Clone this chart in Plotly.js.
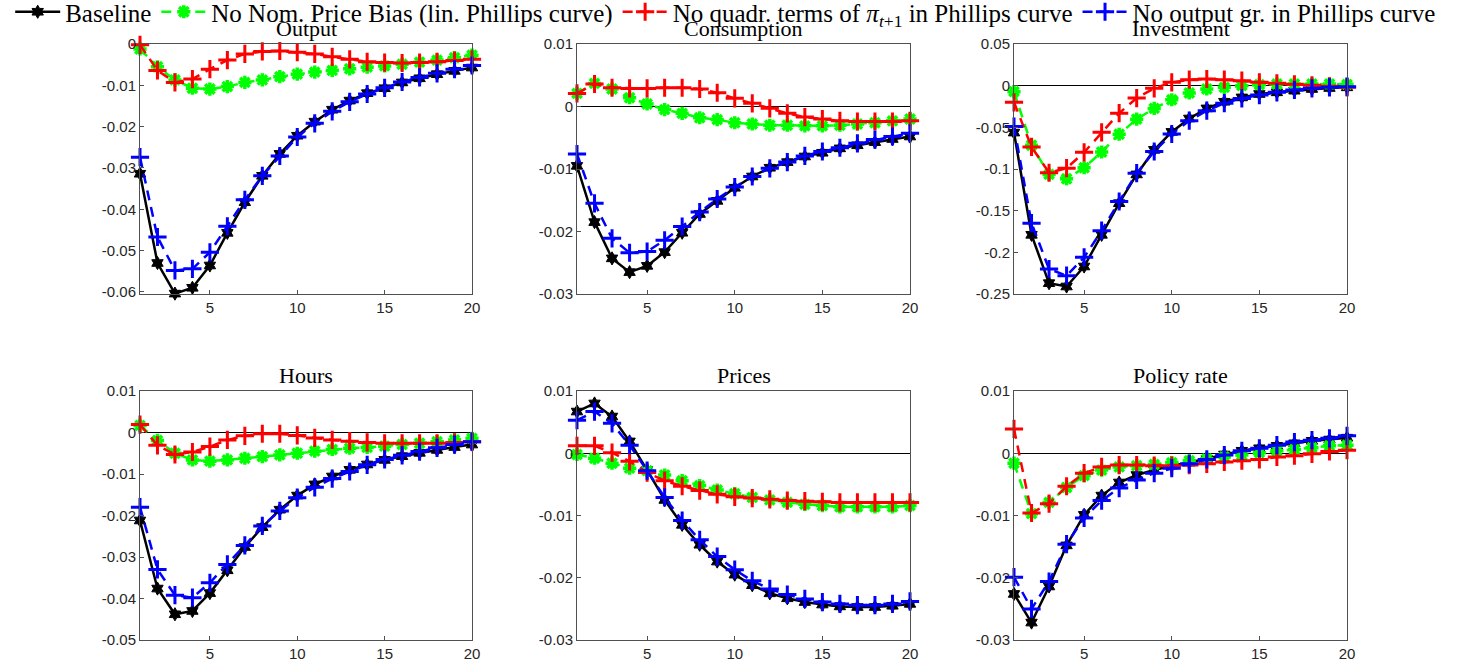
<!DOCTYPE html>
<html>
<head>
<meta charset="utf-8">
<script src="https://cdn.plot.ly/plotly-3.0.1.min.js"></script>
<style>html,body{margin:0;padding:0;background:#fff;}#chart{width:1472px;height:670px;}</style>
</head>
<body>
<div id="chart"></div>
<script>
// Horizon (quarters)
var horizon = [1,2,3,4,5,6,7,8,9,10,11,12,13,14,15,16,17,18,19,20];

// Series names
var seriesNames = [
  'Baseline',
  'No Nom. Price Bias (lin. Phillips curve)',
  'No quadr. terms of <i>π</i><sub><i>t</i>+1</sub> in Phillips curve',
  'No output gr. in Phillips curve'
];

// Panel titles
var panelTitles = ['Output','Consumption','Investment','Hours','Prices','Policy rate'];

// ---- Output ----
var outputBaseline = [-0.0314,-0.0530,-0.0604,-0.0590,-0.0536,-0.0457,-0.0383,-0.0319,-0.0266,-0.0222,-0.0188,-0.0159,-0.0137,-0.0119,-0.0107,-0.0093,-0.0083,-0.0073,-0.0065,-0.0057];
var outputNoBias   = [-0.0012,-0.0055,-0.0087,-0.0107,-0.0109,-0.0103,-0.0093,-0.0087,-0.0079,-0.0073,-0.0068,-0.0064,-0.0060,-0.0056,-0.0053,-0.0049,-0.0044,-0.0039,-0.0033,-0.0027];
var outputNoQuadr  = [-0.0002,-0.0064,-0.0093,-0.0085,-0.0061,-0.0039,-0.0024,-0.0018,-0.0017,-0.0020,-0.0024,-0.0031,-0.0037,-0.0043,-0.0045,-0.0046,-0.0045,-0.0043,-0.0040,-0.0037];
var outputNoOutGr  = [-0.0274,-0.0467,-0.0548,-0.0544,-0.0504,-0.0441,-0.0377,-0.0319,-0.0271,-0.0225,-0.0192,-0.0163,-0.0140,-0.0121,-0.0106,-0.0092,-0.0081,-0.0071,-0.0061,-0.0052];

// ---- Consumption ----
var consBaseline = [-0.0095,-0.0185,-0.0243,-0.0265,-0.0255,-0.0233,-0.0202,-0.0172,-0.0151,-0.0130,-0.0112,-0.0098,-0.0089,-0.0080,-0.0074,-0.0067,-0.0062,-0.0057,-0.0052,-0.0048];
var consNoBias   = [0.0021,0.0037,0.0028,0.0014,0.0004,-0.0005,-0.0011,-0.0018,-0.0021,-0.0026,-0.0028,-0.0030,-0.0030,-0.0031,-0.0031,-0.0030,-0.0028,-0.0026,-0.0023,-0.0020];
var consNoQuadr  = [0.0021,0.0036,0.0030,0.0029,0.0029,0.0030,0.0030,0.0028,0.0022,0.0013,0.0005,-0.0003,-0.0011,-0.0017,-0.0020,-0.0023,-0.0024,-0.0024,-0.0024,-0.0023];
var consNoOutGr  = [-0.0076,-0.0155,-0.0211,-0.0234,-0.0232,-0.0214,-0.0192,-0.0169,-0.0148,-0.0129,-0.0112,-0.0099,-0.0089,-0.0079,-0.0072,-0.0066,-0.0059,-0.0053,-0.0048,-0.0043];

// ---- Investment ----
var invBaseline = [-0.0563,-0.179,-0.237,-0.241,-0.217,-0.179,-0.141,-0.1065,-0.077,-0.0555,-0.0394,-0.0273,-0.0193,-0.0141,-0.0100,-0.0080,-0.0060,-0.0040,-0.0028,-0.0020];
var invNoBias   = [-0.0072,-0.0715,-0.1065,-0.1117,-0.0985,-0.0796,-0.0583,-0.0402,-0.0273,-0.0169,-0.0088,-0.0040,-0.0020,0.0000,0.0012,0.0020,0.0020,0.0020,0.0020,0.0016];
var invNoQuadr  = [-0.020,-0.0735,-0.1045,-0.099,-0.080,-0.056,-0.033,-0.0149,-0.0032,0.0040,0.0072,0.0080,0.0072,0.0060,0.0040,0.0028,0.0016,0.0004,-0.0008,-0.0020];
var invNoOutGr  = [-0.049,-0.165,-0.220,-0.228,-0.206,-0.174,-0.139,-0.105,-0.079,-0.058,-0.042,-0.030,-0.021,-0.0153,-0.0113,-0.0080,-0.0052,-0.0032,-0.0020,-0.0012];

// ---- Hours ----
var hoursBaseline = [-0.0212,-0.0376,-0.0438,-0.0430,-0.0387,-0.0332,-0.0276,-0.0228,-0.0186,-0.0152,-0.0125,-0.0106,-0.0090,-0.0077,-0.0066,-0.0057,-0.0049,-0.0042,-0.0035,-0.0029];
var hoursNoBias   = [0.0017,-0.0019,-0.0050,-0.0066,-0.0069,-0.0066,-0.0062,-0.0058,-0.0054,-0.0050,-0.0045,-0.0041,-0.0038,-0.0036,-0.0033,-0.0029,-0.0026,-0.0022,-0.0018,-0.0014];
var hoursNoQuadr  = [0.0019,-0.0031,-0.0053,-0.0047,-0.0034,-0.0018,-0.0008,-0.0003,-0.0003,-0.0007,-0.0013,-0.0018,-0.0021,-0.0024,-0.0026,-0.0026,-0.0026,-0.0026,-0.0024,-0.0022];
var hoursNoOutGr  = [-0.0180,-0.0330,-0.0392,-0.0398,-0.0362,-0.0318,-0.0272,-0.0225,-0.0189,-0.0157,-0.0132,-0.0111,-0.0094,-0.0078,-0.0065,-0.0055,-0.0046,-0.0037,-0.0029,-0.0022];

// ---- Prices ----
var pricesBaseline = [0.0067,0.0080,0.0059,0.0019,-0.0027,-0.0075,-0.0115,-0.0147,-0.0174,-0.0195,-0.0212,-0.0225,-0.0233,-0.0239,-0.0243,-0.0246,-0.0247,-0.0247,-0.0245,-0.0242];
var pricesNoBias   = [-0.0002,-0.0008,-0.0016,-0.0024,-0.0028,-0.0035,-0.0044,-0.0052,-0.0059,-0.0065,-0.0071,-0.0075,-0.0079,-0.0082,-0.0084,-0.0086,-0.0086,-0.0086,-0.0086,-0.0084];
var pricesNoQuadr  = [0.0012,0.0012,0.0001,-0.0013,-0.0031,-0.0044,-0.0053,-0.0060,-0.0066,-0.0070,-0.0072,-0.0074,-0.0076,-0.0077,-0.0078,-0.0079,-0.0079,-0.0079,-0.0079,-0.0079];
var pricesNoOutGr  = [0.0053,0.0067,0.0048,0.0013,-0.0028,-0.0071,-0.0108,-0.0139,-0.0166,-0.0187,-0.0205,-0.0218,-0.0227,-0.0234,-0.0239,-0.0242,-0.0244,-0.0244,-0.0242,-0.0238];

// ---- Policy rate ----
var rateBaseline = [-0.0226,-0.0272,-0.0214,-0.0148,-0.0099,-0.0068,-0.0047,-0.0035,-0.0027,-0.0020,-0.0015,-0.0009,-0.0002,0.0004,0.0008,0.0012,0.0016,0.0020,0.0022,0.0025];
var rateNoBias   = [-0.0016,-0.0097,-0.0079,-0.0055,-0.0036,-0.0027,-0.0022,-0.0020,-0.0018,-0.0015,-0.0012,-0.0009,-0.0006,-0.0003,0.0001,0.0004,0.0006,0.0009,0.0012,0.0013];
var rateNoQuadr  = [0.0039,-0.0096,-0.0081,-0.0053,-0.0032,-0.0022,-0.0019,-0.0019,-0.0020,-0.0020,-0.0019,-0.0017,-0.0014,-0.0012,-0.0010,-0.0006,-0.0004,-0.0001,0.0003,0.0005];
var rateNoOutGr  = [-0.0199,-0.0250,-0.0206,-0.0146,-0.0104,-0.0076,-0.0056,-0.0043,-0.0032,-0.0024,-0.0017,-0.0010,-0.0003,0.0004,0.0008,0.0013,0.0018,0.0021,0.0024,0.0028];

// Axis ranges and tick labels
var yRanges = [[-0.0605,0],[-0.03,0.01],[-0.25,0.05],[-0.05,0.01],[-0.03,0.01],[-0.03,0.01]];
var yTickVals = [
  [0,-0.01,-0.02,-0.03,-0.04,-0.05,-0.06],
  [0.01,0,-0.01,-0.02,-0.03],
  [0.05,0,-0.05,-0.1,-0.15,-0.2,-0.25],
  [0.01,0,-0.01,-0.02,-0.03,-0.04,-0.05],
  [0.01,0,-0.01,-0.02,-0.03],
  [0.01,0,-0.01,-0.02,-0.03]
];
var yTickText = [
  ['0','-0.01','-0.02','-0.03','-0.04','-0.05','-0.06'],
  ['0.01','0','-0.01','-0.02','-0.03'],
  ['0.05','0','-0.05','-0.1','-0.15','-0.2','-0.25'],
  ['0.01','0','-0.01','-0.02','-0.03','-0.04','-0.05'],
  ['0.01','0','-0.01','-0.02','-0.03'],
  ['0.01','0','-0.01','-0.02','-0.03']
];
var xTickVals = [5,10,15,20];
var xTickText = ['5','10','15','20'];

var panelData = [
  [outputBaseline, outputNoBias, outputNoQuadr, outputNoOutGr],
  [consBaseline, consNoBias, consNoQuadr, consNoOutGr],
  [invBaseline, invNoBias, invNoQuadr, invNoOutGr],
  [hoursBaseline, hoursNoBias, hoursNoQuadr, hoursNoOutGr],
  [pricesBaseline, pricesNoBias, pricesNoQuadr, pricesNoOutGr],
  [rateBaseline, rateNoBias, rateNoQuadr, rateNoOutGr]
];

// Styles
var styles = [
  {line:{color:'#000000', width:2.5, dash:'solid'}, marker:{symbol:'hexagram', size:10, color:'#000000', line:{color:'#000000', width:1}}},
  {line:{color:'#00ff00', width:2.5, dash:'10px,7px'}, marker:{symbol:'asterisk-open', size:11, color:'#00ff00', line:{color:'#00ff00', width:3.5}}},
  {line:{color:'#ff0000', width:2.5, dash:'10px,7px'}, marker:{symbol:'cross-thin-open', size:13, color:'#ff0000', line:{color:'#ff0000', width:3}}},
  {line:{color:'#0000ff', width:2.5, dash:'10px,7px'}, marker:{symbol:'cross-thin-open', size:13, color:'#0000ff', line:{color:'#0000ff', width:3}}}
];

var W = 1472, H = 670;
var colPx = [[140,472],[577,910],[1014,1347]];
var rowPx = [[44,294],[391,640]];

var traces = [];
var layout = {
  width: W, height: H,
  margin: {l:0, r:0, t:0, b:0, autoexpand: false},
  paper_bgcolor: '#ffffff',
  plot_bgcolor: '#ffffff',
  showlegend: true,
  legend: {
    orientation: 'h', x: 0.493, xanchor: 'center', y: 1 - 12 / 670, yanchor: 'middle',
    font: {family: 'Liberation Serif, Times New Roman, serif', size: 25, color: '#000'},
    bgcolor: 'rgba(255,255,255,0)', borderwidth: 0, itemwidth: 45, tracegroupgap: 0
  },
  annotations: []
};

for (var p = 0; p < 6; p++) {
  var col = p % 3, row = Math.floor(p / 3);
  var idx = p === 0 ? '' : String(p + 1);
  var xa = 'x' + idx, ya = 'y' + idx;
  for (var s = 0; s < 4; s++) {
    traces.push({
      type: 'scatter', mode: 'lines+markers',
      x: horizon, y: panelData[p][s],
      xaxis: xa, yaxis: ya,
      name: seriesNames[s],
      showlegend: p === 0,
      legendgroup: 's' + s,
      line: styles[s].line, marker: styles[s].marker,
      cliponaxis: false
    });
  }
  var axStyle = {
    showline: true, mirror: true, linecolor: '#505050', linewidth: 1,
    ticks: 'inside', ticklen: 4, tickcolor: '#505050', tickwidth: 1,
    showgrid: false, automargin: false,
    tickfont: {family: 'Liberation Sans, Arial, sans-serif', size: 15, color: '#262626'}
  };
  layout['xaxis' + idx] = Object.assign({}, axStyle, {
    domain: [colPx[col][0] / W, colPx[col][1] / W],
    range: [1, 20], anchor: ya,
    tickmode: 'array', tickvals: xTickVals, ticktext: xTickText,
    zeroline: false
  });
  layout['yaxis' + idx] = Object.assign({}, axStyle, {
    domain: [1 - rowPx[row][1] / H, 1 - rowPx[row][0] / H],
    range: yRanges[p], anchor: xa,
    tickmode: 'array', tickvals: yTickVals[p], ticktext: yTickText[p],
    zeroline: true, zerolinecolor: '#000000', zerolinewidth: 1
  });
  layout.annotations.push({
    text: panelTitles[p], xref: 'paper', yref: 'paper',
    x: (colPx[col][0] + colPx[col][1]) / 2 / W,
    y: 1 - rowPx[row][0] / H, xanchor: 'center', yanchor: 'bottom',
    yshift: 1, showarrow: false,
    font: {family: 'Liberation Serif, Times New Roman, serif', size: 22, color: '#000'}
  });
}

Plotly.newPlot('chart', traces, layout, {staticPlot: true, displayModeBar: false});
</script>
</body>
</html>
